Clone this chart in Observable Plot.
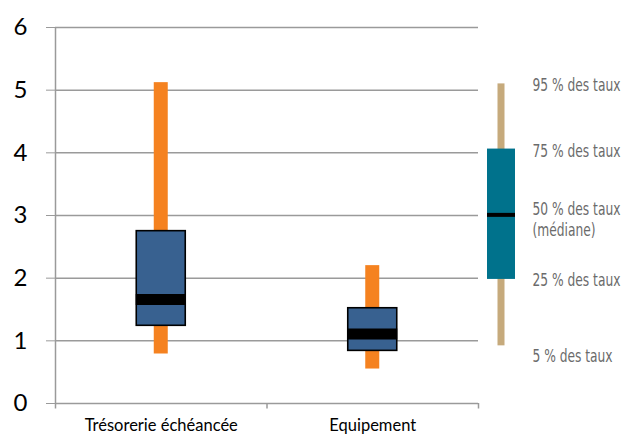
<!DOCTYPE html>
<html>
<head>
<meta charset="utf-8">
<script src="https://cdn.jsdelivr.net/npm/d3@7"></script>
<script src="https://cdn.jsdelivr.net/npm/@observablehq/plot@0.6"></script>
<style>
  html, body { margin: 0; padding: 0; background: #fff; }
  #wrap { position: relative; width: 622px; height: 435px; overflow: hidden; }
  #legend { position: absolute; left: 478px; top: 0; }
  #main { position: absolute; left: 0; top: 0; }
</style>
</head>
<body>
<div id="wrap"><div id="main"></div><div id="legend"></div></div>
<script>
// Data
const categories = ["Trésorerie échéancée", "Equipement"];
const p5  = [0.79, 0.55];
const p25 = [1.24, 0.84];
const med = [1.66, 1.11];
const p75 = [2.75, 1.52];
const p95 = [5.12, 2.20];
const yTicks = [0, 1, 2, 3, 4, 5, 6];

// Legend (reading guide)
const legendKey = ["guide"];
const legendP5 = 0.92, legendP25 = 1.98, legendMed = 3.01, legendP75 = 4.06, legendP95 = 5.10;
const legendLabels = ["95 % des taux", "75 % des taux", "50 % des taux\n(médiane)", "25 % des taux", "5 % des taux"];
const legendLabelY = [5.10, 4.05, 2.95, 1.99, 0.77];

const rows = categories.map((c, i) => ({i, c, p5: p5[i], p25: p25[i], med: med[i], p75: p75[i], p95: p95[i]}));

const H = 435, MT = 27, MB = 32;
const gray = "#9a9a9a";

const main = Plot.plot({
  width: 622, height: H,
  marginLeft: 55, marginRight: 144, marginTop: MT, marginBottom: MB,
  style: {fontFamily: "Lato, 'Open Sans', sans-serif", background: "transparent", overflow: "visible"},
  x: {domain: [0, categories.length]},
  y: {domain: [0, 6]},
  marks: [
    Plot.gridY(yTicks, {stroke: gray, strokeOpacity: 1, strokeWidth: 1.5}),
    Plot.ruleX([0], {stroke: gray, strokeWidth: 1.5, y1: 0, y2: 6}),
    Plot.axisY(yTicks, {tickSize: 9, tickPadding: 19, fontSize: 24, stroke: gray, fill: "#000", tickFormat: d => d}),
    Plot.axisX(d3.range(categories.length + 1), {tickSize: 5.5, tickFormat: () => "", stroke: gray, strokeWidth: 1.5}),
    Plot.axisX(categories.map((c, i) => i + 0.5), {tickSize: 0, tickPadding: 16, fontSize: 16.5, fill: "#000",
      tickFormat: v => categories[Math.floor(v)]}),
    Plot.rectY(rows, {x1: d => d.i, x2: d => d.i + 1, y1: "p5", y2: "p95", fill: "#f58220", insetLeft: 98.75, insetRight: 98.75}),
    Plot.rectY(rows, {x1: d => d.i, x2: d => d.i + 1, y1: "p25", y2: "p75", fill: "#386190", stroke: "#000", strokeWidth: 1.6, insetLeft: 81.25, insetRight: 81.25}),
    Plot.ruleY(rows, {x1: d => d.i, x2: d => d.i + 1, y: "med", stroke: "#000", strokeWidth: 11, insetLeft: 80.75, insetRight: 80.75})
  ]
});
document.getElementById("main").appendChild(main);

const legendFont = "'DejaVu Sans Condensed', 'DejaVu Sans', sans-serif";
const legend = Plot.plot({
  width: 144, height: H,
  marginLeft: 9, marginRight: 107, marginTop: MT, marginBottom: MB,
  style: {background: "transparent", overflow: "visible"},
  x: {domain: legendKey, padding: 0, axis: null},
  y: {domain: [0, 6], axis: null},
  marks: [
    Plot.barY(legendKey, {x: d => d, y1: () => legendP5, y2: () => legendP95, fill: "#c6aa7c", insetLeft: 10.5, insetRight: 10.5}),
    Plot.barY(legendKey, {x: d => d, y1: () => legendP25, y2: () => legendP75, fill: "#00728c"}),
    Plot.tickY(legendKey, {x: d => d, y: () => legendMed, stroke: "#000", strokeWidth: 4}),
    Plot.text(legendLabels, {x: () => legendKey[0], y: (d, i) => legendLabelY[i], text: d => d, dx: 31,
      textAnchor: "start", lineAnchor: "middle", lineHeight: 1.25, fill: "#6b6b6b", fontSize: 17,
      fontFamily: legendFont})
  ]
});
document.getElementById("legend").appendChild(legend);

// Condense the legend labels horizontally (narrow typeface not installed)
const texts = legend.querySelectorAll("text");
if (texts.length) {
  const g = texts[0].parentNode;
  const orig = g.getAttribute("transform") || "";
  let w = 0, x0 = 0;
  try { w = texts[0].getBBox().width; x0 = g.getBBox().x; } catch (e) {}
  const target = 88;
  const s = w > 0 ? Math.min(1, target / w) : 0.72;
  g.setAttribute("transform", `${orig} translate(${x0},0) scale(${s},1) translate(${-x0},0)`);
}
</script>
</body>
</html>
